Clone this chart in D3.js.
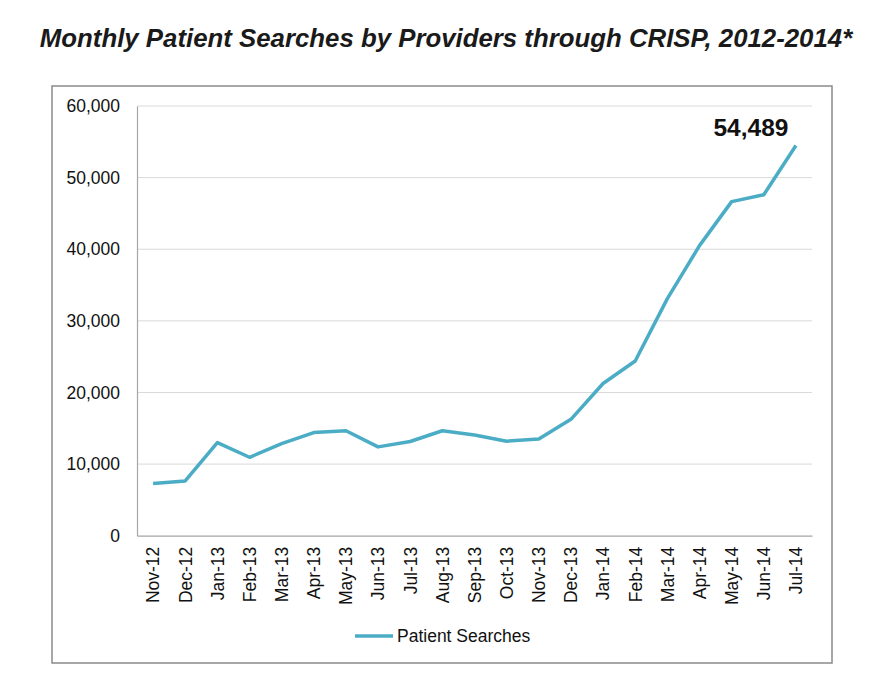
<!DOCTYPE html>
<html><head><meta charset="utf-8">
<script src="https://cdn.jsdelivr.net/npm/d3@7"></script>
<style>body{margin:0;background:#fff}svg{display:block}text{font-family:"Liberation Sans",Arial,sans-serif}</style>
</head><body>
<svg id="c" width="895" height="699"></svg>
<script>
const months = ["Nov-12","Dec-12","Jan-13","Feb-13","Mar-13","Apr-13","May-13","Jun-13","Jul-13","Aug-13","Sep-13","Oct-13","Nov-13","Dec-13","Jan-14","Feb-14","Mar-14","Apr-14","May-14","Jun-14","Jul-14"];
const searches = [7300,7650,13000,10950,12850,14400,14650,12400,13150,14650,14050,13200,13500,16250,21250,24400,33100,40500,46650,47600,54489];
const yTicks = [0,10000,20000,30000,40000,50000,60000];
const seriesName = "Patient Searches";
const title = "Monthly Patient Searches by Providers through CRISP, 2012-2014*";
const lastLabel = "54,489";

const svg = d3.select("#c");
const M = {l:137, r:812, t:106, b:535.7};
const x = d3.scaleBand().domain(months).range([M.l, M.r]);
const y = d3.scaleLinear().domain([0,60000]).range([M.b, M.t]);
const col = "#4BACC6";

svg.append("text").attr("x",446).attr("y",47).attr("text-anchor","middle")
  .attr("font-size",25.8).attr("font-weight","bold").attr("font-style","italic").attr("fill","#1a1a1a").text(title);

svg.append("rect").attr("x",52).attr("y",86).attr("width",780).attr("height",577)
  .attr("fill","none").attr("stroke","#8a8a8a").attr("stroke-width",1.5);

// gridlines
svg.append("g").selectAll("line").data(yTicks.filter(d=>d>0)).join("line")
  .attr("x1",M.l).attr("x2",M.r).attr("y1",d=>y(d)).attr("y2",d=>y(d))
  .attr("stroke","#d9d9d9").attr("stroke-width",1);

// y axis
const ya = svg.append("g").attr("transform",`translate(${M.l},0)`)
  .call(d3.axisLeft(y).tickValues(yTicks).tickSize(0).tickPadding(17).tickFormat(d3.format(",")));
ya.select(".domain").attr("stroke","#a6a6a6").attr("stroke-width",1.2);
ya.selectAll("text").attr("font-size",17.5).attr("fill","#111").attr("font-family","Liberation Sans, Arial, sans-serif");

// x axis
const xa = svg.append("g").attr("transform",`translate(0,${M.b})`)
  .call(d3.axisBottom(x).tickSize(0).tickPadding(0));
xa.select(".domain").attr("stroke","#a6a6a6").attr("stroke-width",1.2);
xa.selectAll("text").attr("font-size",17.5).attr("fill","#111").attr("font-family","Liberation Sans, Arial, sans-serif")
  .attr("text-anchor","end").attr("transform","rotate(-90)")
  .attr("x",-11).attr("y",0).attr("dy","0.36em");

// line
const line = d3.line().x((d,i)=>x(months[i])+x.bandwidth()/2).y(d=>y(d));
svg.append("path").datum(searches).attr("d",line).attr("fill","none")
  .attr("stroke",col).attr("stroke-width",3.5).attr("stroke-linejoin","round");

// last value label
const li = searches.length-1;
svg.append("text").attr("x",x(months[li])+x.bandwidth()/2-45).attr("y",y(searches[li])-9.5)
  .attr("text-anchor","middle").attr("font-size",24.5).attr("font-weight","bold").attr("fill","#111").text(lastLabel);

// legend
const lg = svg.append("g");
lg.append("line").attr("x1",355).attr("x2",393).attr("y1",636).attr("y2",636).attr("stroke",col).attr("stroke-width",3.5);
lg.append("text").attr("x",397).attr("y",636).attr("dy","0.36em").attr("font-size",17.5).attr("fill","#111").text(seriesName);
</script>
</body></html>
